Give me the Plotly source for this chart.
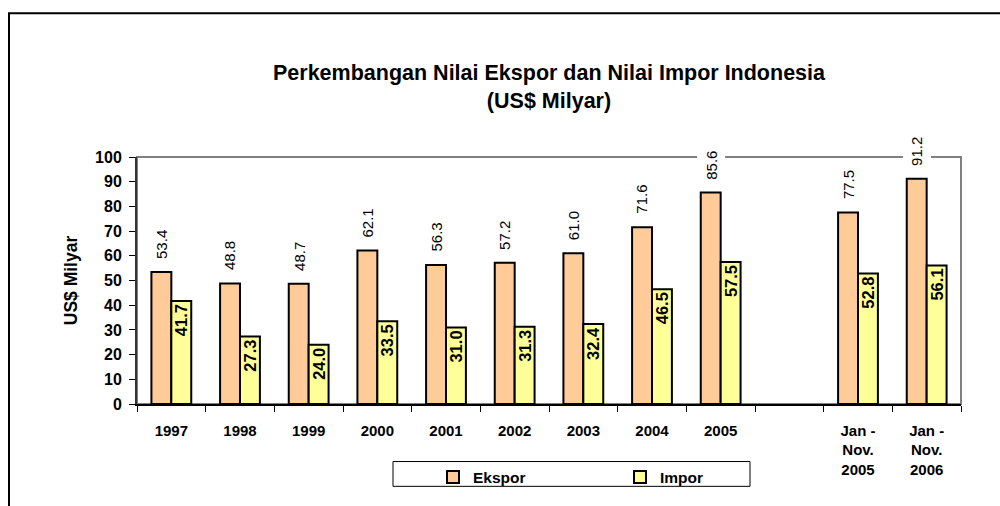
import plotly.graph_objects as go

# ---- data ----
categories = ["1997", "1998", "1999", "2000", "2001", "2002", "2003", "2004", "2005", " ",
              "Jan -<br>Nov.<br>2005", "Jan -<br>Nov.<br>2006"]
ekspor = [53.4, 48.8, 48.7, 62.1, 56.3, 57.2, 61.0, 71.6, 85.6, None, 77.5, 91.2]
impor = [41.7, 27.3, 24.0, 33.5, 31.0, 31.3, 32.4, 46.5, 57.5, None, 52.8, 56.1]
y_ticks = [0, 10, 20, 30, 40, 50, 60, 70, 80, 90, 100]

title_line1 = "Perkembangan Nilai Ekspor dan Nilai Impor Indonesia"
title_line2 = "(US$ Milyar)"
y_title = "US$ Milyar"

# ---- layout geometry ----
W, H = 1000, 506
ML, MR, MT, MB = 137, 39, 157, 100
PW, PH = W - ML - MR, H - MT - MB
BARGAP = 0.42
FONT = "Liberation Sans, Arial, sans-serif"


def px_x(px):
    return (px - ML) / PW


def px_y(py):
    return (H - MB - py) / PH


cat_w = PW / len(categories)
ek_shift = -(1 - BARGAP) / 4 * cat_w

fig = go.Figure()
fig.add_bar(
    x=categories, y=ekspor, name="Ekspor",
    marker=dict(color="#FFCC99", line=dict(color="black", width=2)),
)
fig.add_bar(
    x=categories, y=impor, name="Impor",
    marker=dict(color="#FFFF99", line=dict(color="black", width=2)),
    text=[f"{v:.1f}" if v is not None else "" for v in impor],
    textposition="inside", insidetextanchor="end", textangle=-90,
    constraintext="none",
    textfont=dict(family=FONT, size=16.5, color="black", weight="bold"),
)

annotations = []
for i, v in enumerate(ekspor):
    if v is None:
        continue
    annotations.append(dict(
        x=i, y=v, xref="x", yref="y", text=f"{v:.1f}", showarrow=False,
        textangle=-90, xshift=ek_shift, yshift=7, yanchor="bottom",
        bgcolor="white", borderpad=5,
        font=dict(family=FONT, size=15, color="black"),
    ))

shapes = [
    # outer chart border
    dict(type="rect", xref="paper", yref="paper",
         x0=px_x(9), x1=px_x(1012), y0=px_y(520), y1=px_y(12),
         line=dict(color="black", width=2), fillcolor="rgba(0,0,0,0)", layer="below"),
    # plot area border
    dict(type="rect", xref="paper", yref="paper", x0=0, x1=1, y0=0, y1=1,
         line=dict(color="#808080", width=2), fillcolor="rgba(0,0,0,0)", layer="below"),
    # legend box
    dict(type="rect", xref="paper", yref="paper",
         x0=px_x(393), x1=px_x(750), y0=px_y(489), y1=px_y(464),
         line=dict(color="black", width=1), fillcolor="rgba(0,0,0,0)", layer="below"),
]

fig.update_layout(
    width=W, height=H,
    margin=dict(l=ML, r=MR, t=MT, b=MB),
    paper_bgcolor="white", plot_bgcolor="white",
    barmode="group", bargap=BARGAP, bargroupgap=0,
    font=dict(family=FONT, color="black"),
    title=dict(
        text=f"<b>{title_line1}</b><br><b>{title_line2}</b>",
        x=0.5, xref="paper", xanchor="center",
        y=1 - 80 / H, yref="container", yanchor="top",
        font=dict(family=FONT, size=21.5, color="black"),
    ),
    xaxis=dict(
        type="category", categoryorder="array", categoryarray=categories,
        range=[-0.5, len(categories) - 0.5],
        showline=True, linecolor="black", linewidth=1.5,
        ticks="outside", tickson="boundaries", ticklen=6, tickcolor="black",
        tickfont=dict(family=FONT, size=15, color="black", weight="bold"),
        tickangle=0, ticklabelstandoff=12,
        showgrid=False, zeroline=False,
    ),
    yaxis=dict(
        range=[0, 100], tickvals=y_ticks, showline=True, linecolor="#333333", linewidth=2,
        ticks="outside", ticklen=6, tickcolor="black", ticklabelstandoff=4,
        tickfont=dict(family=FONT, size=16, color="black", weight="bold"),
        showgrid=False, zeroline=False,
        title=dict(text=f"<b>{y_title}</b>", standoff=13,
                   font=dict(family=FONT, size=17.5, color="black")),
    ),
    showlegend=True,
    legend=dict(
        orientation="h", x=px_x(433), xanchor="left", y=px_y(463), yanchor="top",
        entrywidth=142, entrywidthmode="pixels",
        font=dict(family=FONT, size=15.5, color="black", weight="bold"),
        bgcolor="rgba(0,0,0,0)", borderwidth=0,
    ),
    annotations=annotations,
    shapes=shapes,
)

fig.write_html("out.html", config={"displayModeBar": False},
               post_script="document.body.style.margin='0px';")
